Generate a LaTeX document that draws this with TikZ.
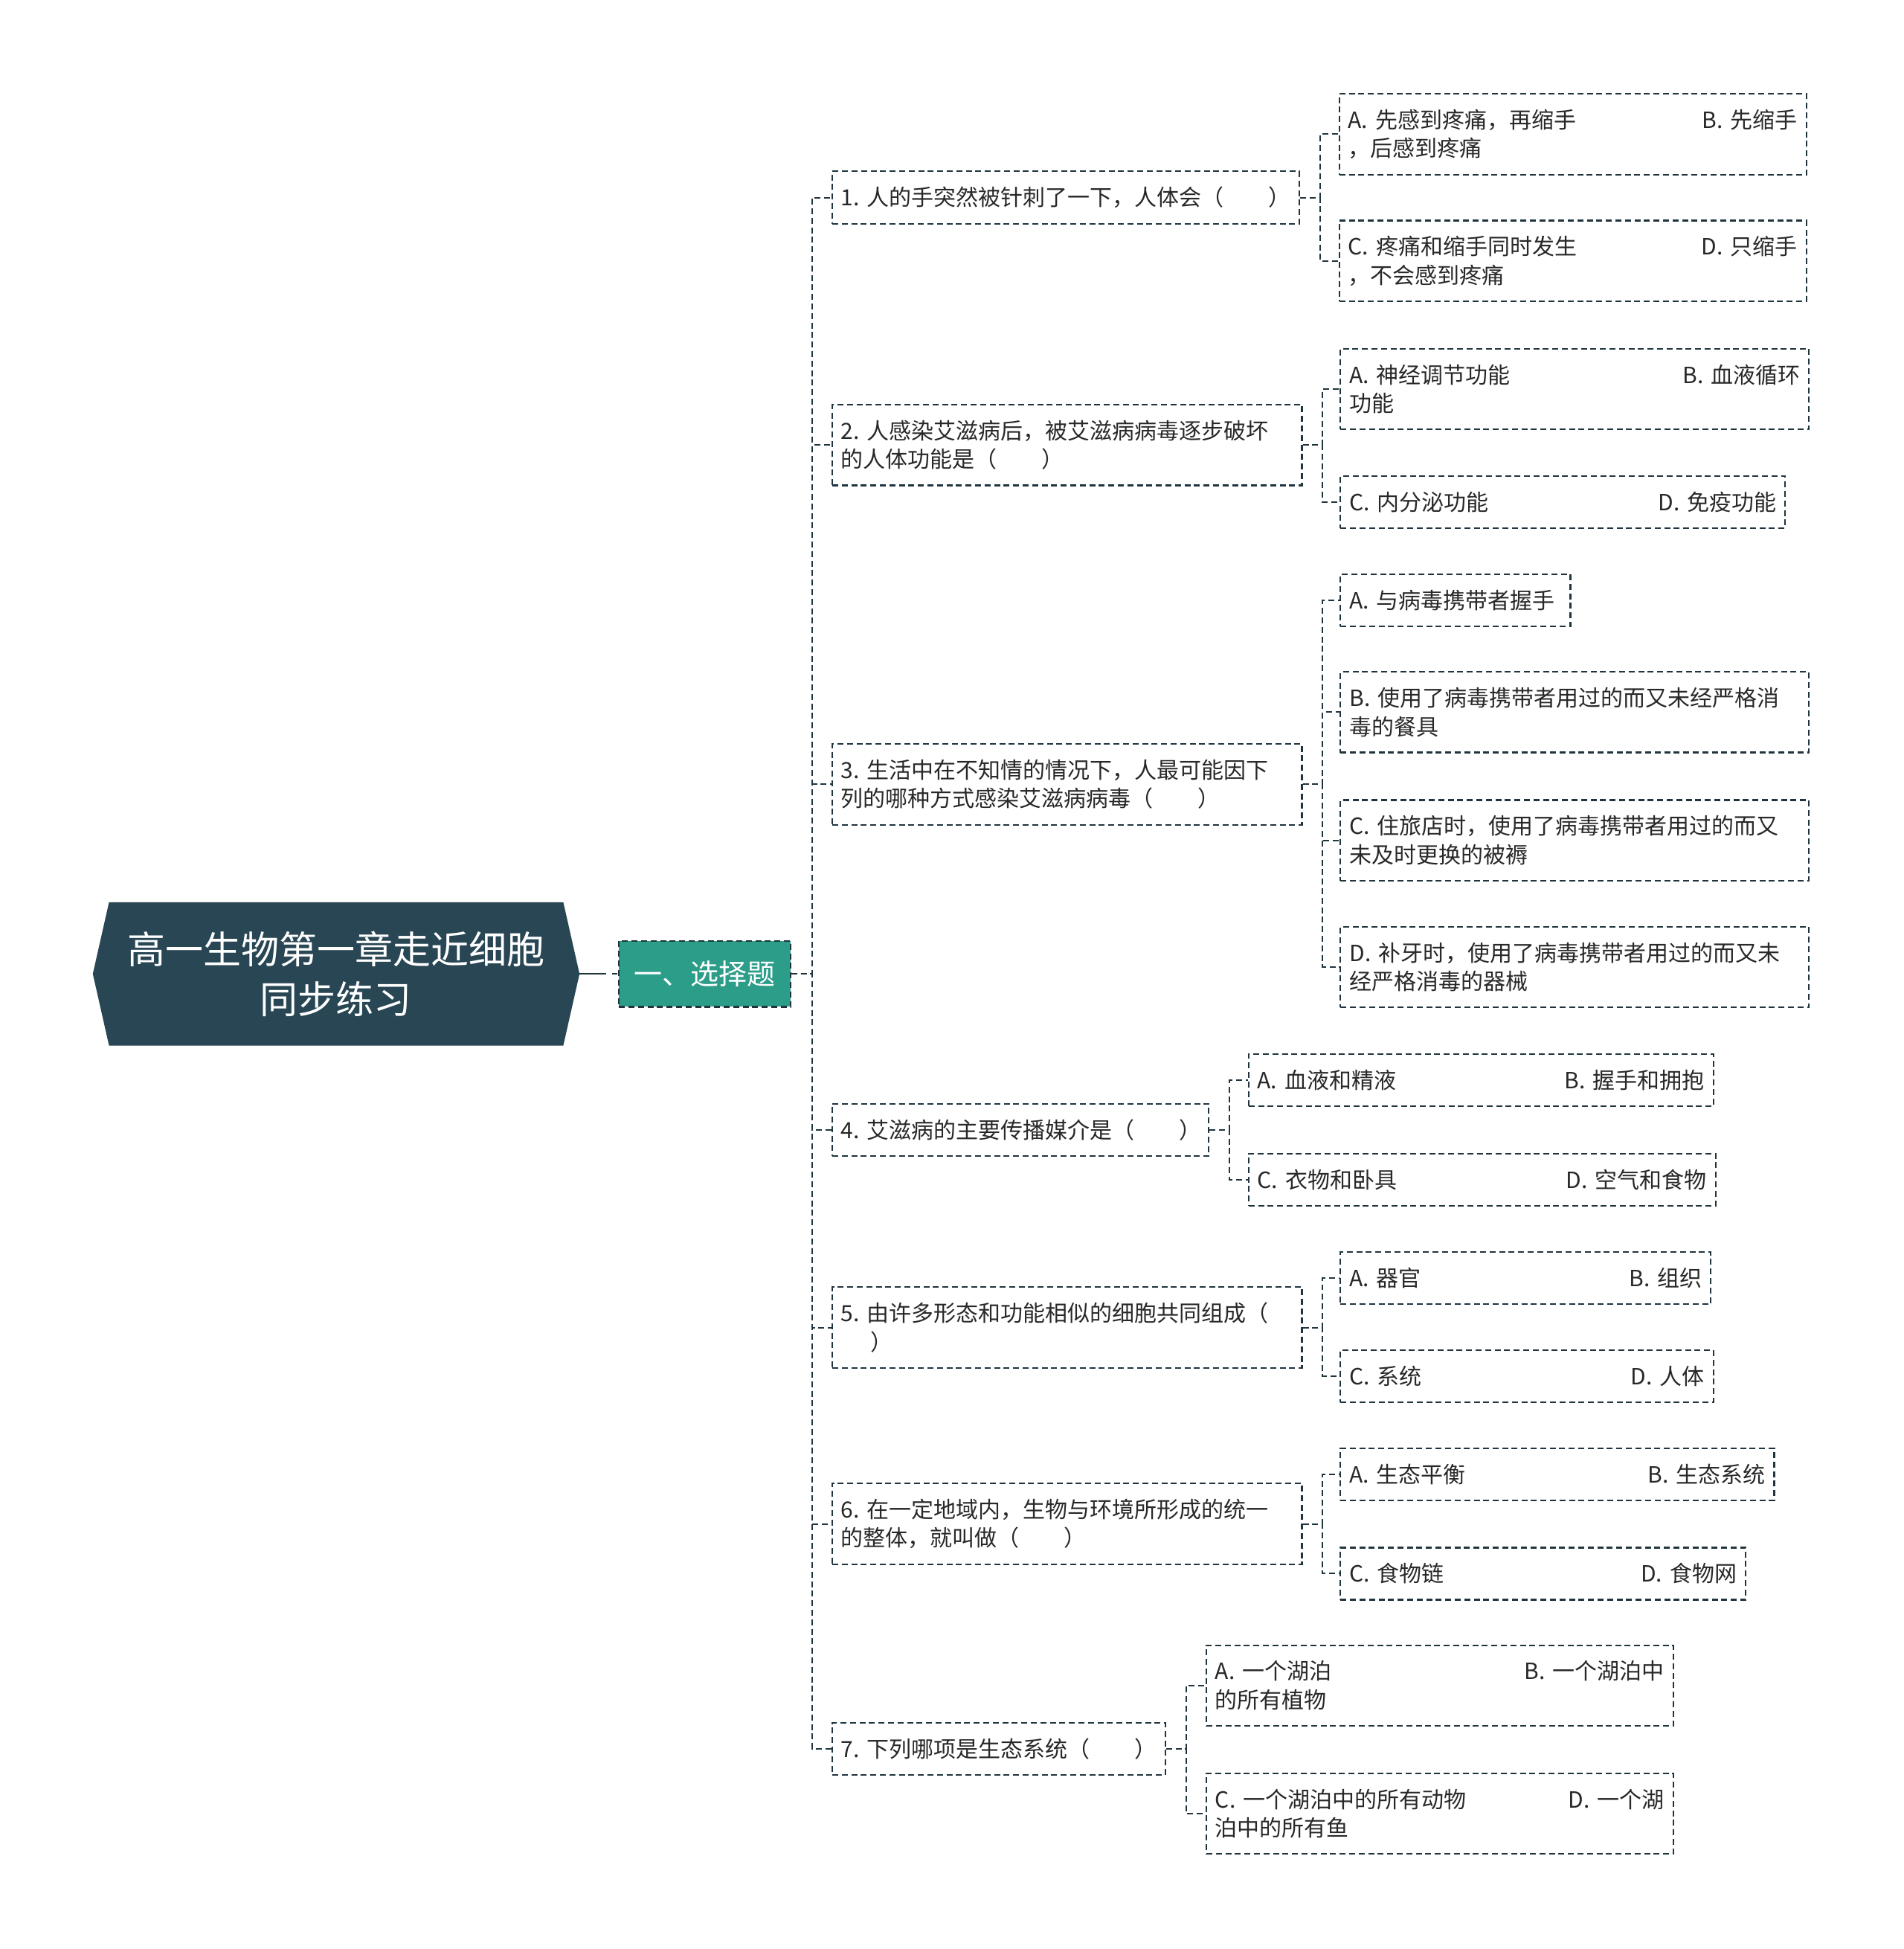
\documentclass[tikz,border=0pt]{standalone}
\usepackage{fontspec}
\setmainfont{Noto Sans CJK SC}
\usepackage{tikz}
\usetikzlibrary{positioning, backgrounds}
\definecolor{rootc}{RGB}{40,70,83}
\definecolor{topicc}{RGB}{44,157,137}
\definecolor{linec}{RGB}{32,52,62}
\definecolor{textc}{RGB}{40,40,40}
\tikzset{
  rootblock/.style={rectangle, minimum width=305pt, minimum height=96pt,
    inner sep=0pt, align=center, text=white,
    font=\fontsize{25.5}{33.4}\selectfont},
  topicblock/.style={rectangle, draw=linec, fill=topicc,
    dash pattern=on 4pt off 2.4pt, line width=1.1pt,
    minimum width=115.3pt, minimum height=44.3pt, text=white,
    font=\fontsize{19}{23}\selectfont},
  qblock/.style={rectangle, draw=linec, dash pattern=on 4pt off 2.4pt,
    line width=1.1pt, anchor=west, align=left, inner xsep=6pt,
    inner ysep=10.5pt, minimum height=35pt, text=textc,
    font=\fontsize{15}{19.2}\selectfont},
  link/.style={draw=linec, dash pattern=on 4pt off 2.4pt, line width=1pt},
  rootlink/.style={draw=linec, dash pattern=on 18pt off 4pt on 3.5pt off 2pt,
    line width=1.3pt}
}

\begin{document}
\begin{tikzpicture}[x=0.8355pt, y=-0.8355pt]
  \useasboundingbox (0,0) rectangle (1532,1568);

  % root and topic
  \node[rootblock] (root) at (270.5,783.5) {高一生物第一章走近细胞\\同步练习};
  \coordinate (roottip) at ([xshift=10.9pt]root.east);
  \begin{scope}[on background layer]
    \fill[rootc] (root.north west) -- (root.north east) -- (roottip)
      -- (root.south east) -- (root.south west)
      -- ([xshift=-10.9pt]root.west) -- cycle;
  \end{scope}
  \node[topicblock] (l1) at (567,783.5) {一、选择题};
  \draw[rootlink] (roottip) -- (l1.west);

  % questions
  \node[qblock, text width=302pt] (q1) at (669,159) {1.~人的手突然被针刺了一下，人体会（　　）};
  \node[qblock, text width=303.8pt] (q2) at (669,358) {2.~人感染艾滋病后，被艾滋病病毒逐步破坏\\的人体功能是（　　）};
  \node[qblock, text width=303.8pt] (q3) at (669,631) {3.~生活中在不知情的情况下，人最可能因下\\列的哪种方式感染艾滋病病毒（　　）};
  \node[qblock, text width=241.2pt] (q4) at (669,909) {4.~艾滋病的主要传播媒介是（　　）};
  \node[qblock, text width=303.8pt] (q5) at (669,1068) {5.~由许多形态和功能相似的细胞共同组成（\\　~）};
  \node[qblock, text width=303.8pt] (q6) at (669,1226) {6.~在一定地域内，生物与环境所形成的统一\\的整体，就叫做（　　）};
  \node[qblock, text width=211.9pt] (q7) at (669,1407) {7.~下列哪项是生态系统（　　）};

  \draw[link] (l1.east) -- ++(17,0) |- (q1.west);
  \draw[link] (l1.east) -- ++(17,0) |- (q2.west);
  \draw[link] (l1.east) -- ++(17,0) |- (q3.west);
  \draw[link] (l1.east) -- ++(17,0) |- (q4.west);
  \draw[link] (l1.east) -- ++(17,0) |- (q5.west);
  \draw[link] (l1.east) -- ++(17,0) |- (q6.west);
  \draw[link] (l1.east) -- ++(17,0) |- (q7.west);

  % options
  \node[qblock, text width=302pt] (q1a) at (1077,108) {A.~先感到疼痛，再缩手\hfill B.~先缩手\hspace*{7pt}\\，后感到疼痛};
  \node[qblock, text width=302pt] (q1c) at (1077,210) {C.~疼痛和缩手同时发生\hfill D.~只缩手\hspace*{7pt}\\，不会感到疼痛};
  \node[qblock, text width=303pt] (q2a) at (1078,313) {A.~神经调节功能\hfill B.~血液循环\hspace*{7pt}\\功能};
  \node[qblock, text width=287pt] (q2c) at (1078,404) {C.~内分泌功能\hfill D.~免疫功能};
  \node[qblock, text width=142.6pt] (q3a) at (1078,483) {A.~与病毒携带者握手};
  \node[qblock, text width=303pt] (q3b) at (1078,573) {B.~使用了病毒携带者用过的而又未经严格消\\毒的餐具};
  \node[qblock, text width=303pt] (q3c) at (1078,676) {C.~住旅店时，使用了病毒携带者用过的而又\\未及时更换的被褥};
  \node[qblock, text width=303pt] (q3d) at (1078,778) {D.~补牙时，使用了病毒携带者用过的而又未\\经严格消毒的器械};
  \node[qblock, text width=300.5pt] (q4a) at (1004,869) {A.~血液和精液\hfill B.~握手和拥抱};
  \node[qblock, text width=302pt] (q4c) at (1004,949) {C.~衣物和卧具\hfill D.~空气和食物};
  \node[qblock, text width=237pt] (q5a) at (1078,1028) {A.~器官\hfill B.~组织};
  \node[qblock, text width=238.7pt] (q5c) at (1078,1107) {C.~系统\hfill D.~人体};
  \node[qblock, text width=279.6pt] (q6a) at (1078,1186) {A.~生态平衡\hfill B.~生态系统};
  \node[qblock, text width=260.4pt] (q6c) at (1078,1266) {C.~食物链\hfill D.~食物网};
  \node[qblock, text width=302pt] (q7a) at (970,1356) {A.~一个湖泊\hfill B.~一个湖泊中\hspace*{6pt}\\的所有植物};
  \node[qblock, text width=302pt] (q7c) at (970,1459) {C.~一个湖泊中的所有动物\hfill D.~一个湖\\泊中的所有鱼};

  \draw[link] (q1.east) -- ++(16,0) |- (q1a.west);
  \draw[link] (q1.east) -- ++(16,0) |- (q1c.west);
  \draw[link] (q2.east) -- ++(16,0) |- (q2a.west);
  \draw[link] (q2.east) -- ++(16,0) |- (q2c.west);
  \draw[link] (q3.east) -- ++(16,0) |- (q3a.west);
  \draw[link] (q3.east) -- ++(16,0) |- (q3b.west);
  \draw[link] (q3.east) -- ++(16,0) |- (q3c.west);
  \draw[link] (q3.east) -- ++(16,0) |- (q3d.west);
  \draw[link] (q4.east) -- ++(16,0) |- (q4a.west);
  \draw[link] (q4.east) -- ++(16,0) |- (q4c.west);
  \draw[link] (q5.east) -- ++(16,0) |- (q5a.west);
  \draw[link] (q5.east) -- ++(16,0) |- (q5c.west);
  \draw[link] (q6.east) -- ++(16,0) |- (q6a.west);
  \draw[link] (q6.east) -- ++(16,0) |- (q6c.west);
  \draw[link] (q7.east) -- ++(16,0) |- (q7a.west);
  \draw[link] (q7.east) -- ++(16,0) |- (q7c.west);
\end{tikzpicture}
\end{document}
